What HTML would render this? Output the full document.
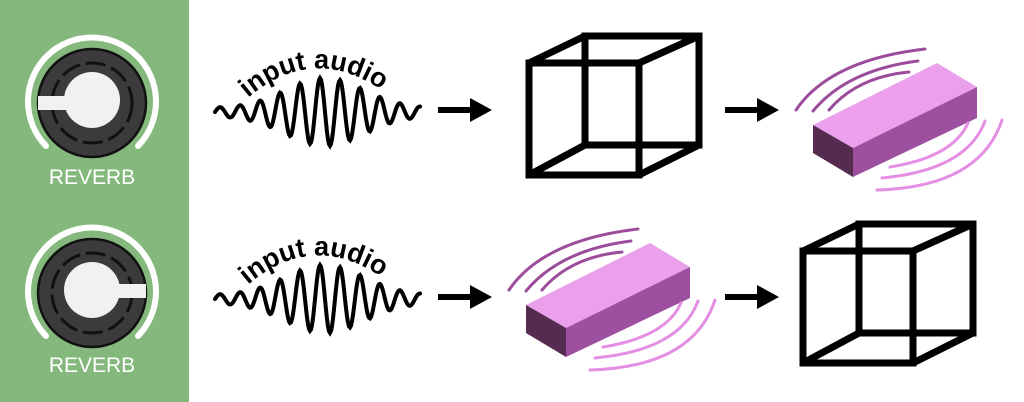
<!DOCTYPE html>
<html><head><meta charset="utf-8"><style>
html,body{margin:0;padding:0;background:#fff;width:1024px;height:402px;overflow:hidden}
svg{display:block}
</style></head><body>
<svg width="1024" height="402" viewBox="0 0 1024 402" xmlns="http://www.w3.org/2000/svg">
<defs>
<g id="knob">
  <path d="M-46,43 A64,64 0 1 1 46,43" fill="none" stroke="#fff" stroke-width="6" stroke-linecap="round"/>
  <circle cx="0" cy="0" r="54" fill="#3b3b3b" stroke="#111" stroke-width="2.5"/>
  <circle cx="0" cy="0" r="40" fill="none" stroke="#111" stroke-width="3" stroke-dasharray="20 6"/>
  <circle cx="0" cy="-3" r="28" fill="#f1f1f3"/>
</g>
<g id="box">
  <polygon points="813,125 937,63 977,87 853,148" fill="#eaa0ea"/>
  <polygon points="813,125 853,148 853,177 813,153" fill="#552b50"/>
  <polygon points="853,148 977,87 977,118 853,177" fill="#9d50a0"/>
  <g fill="none" stroke="#9b4d9b" stroke-width="3" stroke-linecap="round">
    <path d="M796,110 Q830,60 925,49"/>
    <path d="M813,111 Q847,70 918,61"/>
    <path d="M829,110 Q857,77 909,72"/>
  </g>
  <g fill="none" stroke="#e48ee4" stroke-width="3" stroke-linecap="round">
    <path d="M890,167 Q953,157 968,123"/>
    <path d="M882,178 Q967,170 985,121"/>
    <path d="M877,190 Q980,187 1002,120"/>
  </g>
</g>
<g id="cube" fill="none" stroke="#000" stroke-width="7" stroke-linejoin="miter">
  <rect x="529" y="63" width="110" height="112"/>
  <rect x="585" y="36" width="114" height="109"/>
  <line x1="529" y1="63" x2="585" y2="36"/>
  <line x1="639" y1="63" x2="699" y2="36"/>
  <line x1="529" y1="175" x2="585" y2="145"/>
  <line x1="639" y1="175" x2="699" y2="145"/>
</g>
<g id="arrow">
  <line x1="0" y1="0" x2="36" y2="0" stroke="#000" stroke-width="6"/>
  <polygon points="32,-12 54,0 32,12" fill="#000"/>
</g>
<path id="arc" d="M248,98 Q320,36 400,104"/>
</defs>
<rect x="0" y="0" width="189" height="402" fill="#84b87c"/>
<g transform="translate(92,103)"><use href="#knob"/><rect x="-54" y="-7" width="32" height="14" fill="#f1f1f3"/></g>
<text x="92" y="184" text-anchor="middle" font-family="Liberation Sans, sans-serif" font-size="21" fill="#fff">REVERB</text>
<g transform="translate(92,293)"><use href="#knob"/><rect x="22" y="-9" width="32" height="14" fill="#f1f1f3"/></g>
<text x="92" y="372" text-anchor="middle" font-family="Liberation Sans, sans-serif" font-size="21" fill="#fff">REVERB</text>

<path id="w1" fill="none" stroke="#000" stroke-width="4" stroke-linecap="round"/>
<path id="w2" fill="none" stroke="#000" stroke-width="4" stroke-linecap="round"/>
<text font-family="Liberation Sans, sans-serif" font-weight="bold" font-size="27" fill="#000"><textPath href="#arc">input audio</textPath></text>
<g transform="translate(0,187)"><text font-family="Liberation Sans, sans-serif" font-weight="bold" font-size="27" fill="#000"><textPath href="#arc">input audio</textPath></text></g>

<use href="#arrow" x="438" y="110"/>
<use href="#arrow" x="725" y="110"/>
<use href="#arrow" x="438" y="297"/>
<use href="#arrow" x="725" y="297"/>

<use href="#cube"/>
<use href="#box"/>
<use href="#box" x="-287" y="180"/>
<use href="#cube" x="274" y="188"/>
</svg>
<script>
function wave(cy){
  var d="";
  for(var x=215;x<=420;x+=1){
    var t=(x-325)/55;
    var a=4+30*Math.exp(-t*t);
    var y=cy-a*Math.sin((x-215)/20*2*Math.PI);
    d+=(x==215?"M":"L")+x+","+y.toFixed(1);
  }
  return d;
}
document.getElementById("w1").setAttribute("d",wave(112));
document.getElementById("w2").setAttribute("d",wave(299));
</script>
</body></html>
